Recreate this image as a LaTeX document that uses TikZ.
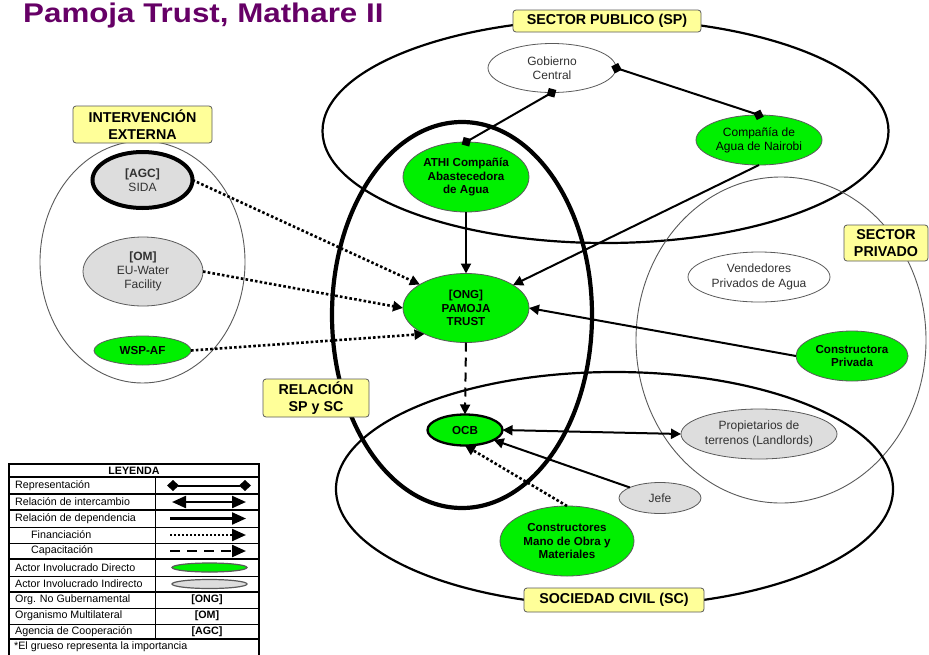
\documentclass[tikz,border=0pt]{standalone}
\usepackage{fontspec}
\setmainfont{Liberation Sans}
\newfontfamily\titlefam[FakeStretch=1.16]{Liberation Sans}
\usetikzlibrary{shapes.geometric,arrows.meta}
\definecolor{actgreen}{RGB}{0,240,0}
\definecolor{actgray}{RGB}{221,221,221}
\definecolor{lblyellow}{RGB}{255,255,153}
\definecolor{titlepurple}{RGB}{102,0,102}
\definecolor{txtgray}{RGB}{50,50,50}
\definecolor{edgegray}{RGB}{90,90,90}
\begin{document}
\begin{tikzpicture}[x=1pt,y=-1pt,
  base/.style={ellipse, inner sep=0pt, outer sep=0pt, align=center},
  sz/.style 2 args={minimum width=#1, minimum height=#2},
  zone/.style={base, draw=black, line width=2.2pt},
  thinzone/.style={base, draw=edgegray, line width=0.9pt},
  direct/.style={base, draw=edgegray, line width=0.8pt, fill=actgreen, font=\fontsize{11.6}{13.8}\selectfont\bfseries},
  directr/.style={base, draw=edgegray, line width=0.8pt, fill=actgreen, font=\fontsize{12}{14.3}\selectfont},
  indirect/.style={base, draw=edgegray, line width=0.8pt, fill=actgray, text=txtgray, font=\fontsize{12}{14.3}\selectfont},
  plain/.style={base, draw=edgegray, line width=0.8pt, fill=white, text=txtgray, font=\fontsize{12}{14.3}\selectfont},
  lbl/.style={draw=edgegray, line width=0.8pt, fill=lblyellow, rounded corners=3pt, font=\fontsize{14.3}{17.5}\selectfont\bfseries, align=center, inner sep=0pt},
  dep/.style={-{Triangle[length=10pt,width=10pt]}, line width=2pt},
  fin/.style={dep, line width=2.6pt, dash pattern=on 2.6pt off 2.2pt},
  capac/.style={dep, dash pattern=on 9pt off 6pt},
  exch/.style={{Triangle[length=10pt,width=10pt]}-{Triangle[length=10pt,width=10pt]}, line width=2pt},
  rep/.style={{Diamond[length=11pt,width=11pt]}-{Diamond[length=11pt,width=11pt]}, line width=2pt, shorten <=-5pt, shorten >=-5pt},
  legtext/.style={anchor=west, inner sep=0pt, font=\fontsize{10.7}{12}\selectfont},
  legthick/.style={line width=2pt},
  legthin/.style={line width=0.9pt},
  legarrow/.style={-{Triangle[length=14pt,width=12pt]}, line width=2.2pt}
]
\useasboundingbox (0,0) rectangle (929,654);
\fill[white] (0,0) rectangle (929,654);

% title
\node[anchor=base west, inner sep=0pt, text=titlepurple, font=\titlefam\fontsize{27}{30}\selectfont\bfseries] (title) at (23,22) {Pamoja Trust, Mathare II};

% zones
\node[zone, sz={566pt}{224pt}] (spzone) at (605.5,131) {};
\node[thinzone, sz={290pt}{326pt}] (privzone) at (781,340) {};
\node[zone, sz={557pt}{234pt}] (sczone) at (614.5,489) {};
\node[thinzone, sz={205pt}{242pt}] (extzone) at (142.5,262) {};
\node[base, draw=black, line width=4.2pt, sz={260pt}{386pt}] (relzone) at (462,315) {};

% actors
\node[plain, sz={128pt}{49pt}] (gob) at (552,68) {Gobierno\\Central};
\node[directr, sz={126pt}{50pt}] (nairobi) at (759,140) {Compañía de\\Agua de Nairobi};
\node[direct, sz={126pt}{70pt}] (athi) at (466,177) {ATHI Compañía\\Abastecedora\\de Agua};
\node[direct, sz={126pt}{69pt}] (pamoja) at (466,308) {[ONG]\\PAMOJA\\TRUST};
\node[direct, draw=black, line width=2.3pt, sz={75pt}{31pt}] (ocb) at (465,430) {OCB};
\node[plain, sz={142pt}{50pt}] (vend) at (759,277) {Vendedores\\Privados de Agua};
\node[direct, sz={112pt}{50pt}] (constructora) at (852,356) {Constructora\\Privada};
\node[indirect, sz={156pt}{50pt}] (prop) at (759,434) {Propietarios de\\terrenos (Landlords)};
\node[indirect, sz={82pt}{31pt}] (jefe) at (660,498) {Jefe};
\node[direct, sz={134pt}{70pt}] (constructores) at (567,541) {Constructores\\Mano de Obra y\\Materiales};
\node[indirect, draw=black, line width=4pt, sz={100pt}{56pt}] (sida) at (142.5,180) {\textbf{[AGC]}\\SIDA};
\node[indirect, sz={120pt}{69pt}] (eu) at (143,271.5) {\textbf{[OM]}\\EU-Water\\Facility};
\node[direct, sz={97pt}{29pt}] (wsp) at (142.5,350.5) {WSP-AF};

% connectors
\draw[rep] (gob.south) -- (athi.north);
\draw[rep] (gob.east) -- (nairobi.north);
\draw[dep] (athi.south) -- (pamoja.north);
\draw[dep] (nairobi.south) -- (pamoja);
\draw[dep] (constructora.west) -- (pamoja.east);
\draw[fin] (sida.east) -- (pamoja.153);
\draw[fin] (eu.east) -- (pamoja.west);
\draw[fin] (wsp.east) -- (pamoja.212);
\draw[capac] (pamoja.south) -- (ocb.north);
\draw[exch] (ocb.east) -- (prop.west);
\draw[dep] (jefe) -- (ocb);
\draw[fin] (constructores.north) -- (ocb.south);

% zone labels
\node[lbl, minimum width=188pt, minimum height=22pt] (splbl) at (607,21) {SECTOR PUBLICO (SP)};
\node[lbl, minimum width=139pt, minimum height=37pt] (extlbl) at (142.5,124.5) {INTERVENCIÓN\\EXTERNA};
\node[lbl, minimum width=84pt, minimum height=36pt] (privlbl) at (886,243) {SECTOR\\PRIVADO};
\node[lbl, minimum width=106pt, minimum height=38pt] (rellbl) at (316,398) {RELACIÓN\\SP y SC};
\node[lbl, minimum width=180pt, minimum height=24pt] (sclbl) at (614,600) {SOCIEDAD CIVIL (SC)};

% legend
\fill[white] (9,464) rectangle (259,660);
\draw[legthick] (9,464) rectangle (259,662);
\foreach \yy in {477,494,510,559,592,639} \draw[legthick] (9,\yy) -- (259,\yy);
\foreach \yy in {527,543,576,608,624} \draw[legthin] (9,\yy) -- (259,\yy);
\draw[legthin] (155,477) -- (155,639);

\node[inner sep=0pt, font=\fontsize{10.7}{12}\selectfont\bfseries] (leyenda) at (134,470.5) {LEYENDA};
\node[legtext] (t1) at (15,485.5) {Representación};
\node[legtext] (t2) at (15,502) {Relación de intercambio};
\node[legtext] (t3) at (15,518.5) {Relación de dependencia};
\node[legtext] (t4) at (31,535) {Financiación};
\node[legtext] (t5) at (31,551) {Capacitación};
\node[legtext] (t6) at (15,567.5) {Actor Involucrado Directo};
\node[legtext] (t7) at (15,584) {Actor Involucrado Indirecto};
\node[legtext] (t8) at (15,600) {Org. No Gubernamental};
\node[legtext] (t9) at (15,616) {Organismo Multilateral};
\node[legtext] (t10) at (15,631.5) {Agencia de Cooperación};
\node[legtext] (t11) at (14,647) {*El grueso representa la importancia};

\coordinate (r1a) at (173,485.5); \coordinate (r1b) at (245,485.5);
\coordinate (r2a) at (172,502); \coordinate (r2b) at (246,502);
\coordinate (r3a) at (170,518.5); \coordinate (r3b) at (246,518.5);
\coordinate (r4a) at (170,535); \coordinate (r4b) at (246,535);
\coordinate (r5a) at (170,551); \coordinate (r5b) at (246,551);
\draw[{Diamond[length=12pt,width=11pt]}-{Diamond[length=12pt,width=11pt]}, line width=2pt, shorten <=-6pt, shorten >=-6pt] (r1a) -- (r1b);
\draw[{Triangle[length=14pt,width=12pt]}-{Triangle[length=14pt,width=12pt]}, line width=2.2pt] (r2a) -- (r2b);
\draw[legarrow] (r3a) -- (r3b);
\draw[legarrow, line width=2.2pt, dash pattern=on 2.2pt off 1.8pt] (r4a) -- (r4b);
\draw[legarrow, line width=2.4pt, dash pattern=on 10pt off 7pt] (r5a) -- (r5b);
\node[base, draw=edgegray, line width=1.2pt, fill=actgreen, sz={75pt}{9pt}] (l6) at (209.5,567.5) {};
\node[base, draw=edgegray, line width=1.2pt, fill=actgray, sz={75pt}{9pt}] (l7) at (209.5,584) {};
\node[inner sep=0pt, font=\fontsize{10.7}{12}\selectfont\bfseries] (l8) at (207,600) {[ONG]};
\node[inner sep=0pt, font=\fontsize{10.7}{12}\selectfont\bfseries] (l9) at (207,616) {[OM]};
\node[inner sep=0pt, font=\fontsize{10.7}{12}\selectfont\bfseries] (l10) at (207,631.5) {[AGC]};
\end{tikzpicture}
\end{document}
